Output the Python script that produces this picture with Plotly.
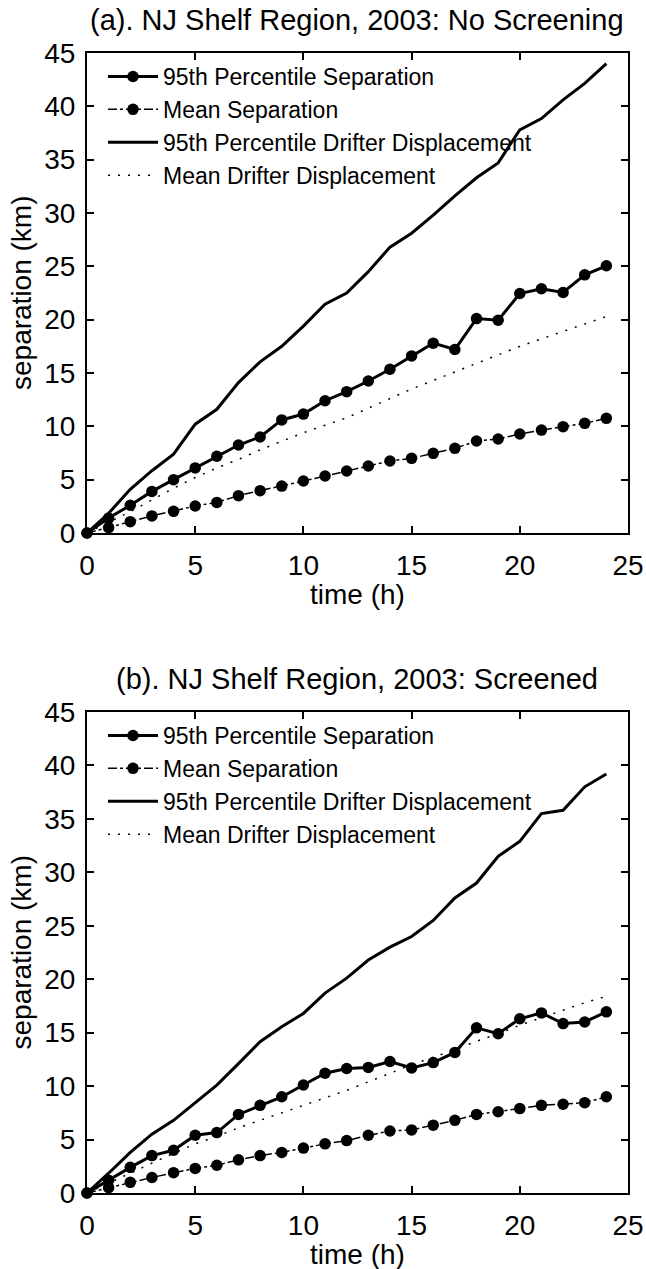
import plotly.graph_objects as go

hours = list(range(25))

# (a) No screening
p95_sep_a = [0, 1.4, 2.6, 3.9, 5.0, 6.1, 7.2, 8.25, 9.0, 10.6, 11.15, 12.4, 13.25, 14.25, 15.35,
             16.6, 17.8, 17.2, 20.1, 19.95, 22.45, 22.9, 22.55, 24.2, 25.05]
mean_sep_a = [0, 0.5, 1.06, 1.6, 2.03, 2.53, 2.87, 3.5, 3.97, 4.4, 4.87, 5.34, 5.81, 6.28, 6.75,
              7.0, 7.47, 7.94, 8.62, 8.81, 9.28, 9.65, 9.97, 10.28, 10.75]
p95_disp_a = [0, 1.85, 4.1, 5.84, 7.4, 10.2, 11.6, 14.1, 16.05, 17.5, 19.4, 21.45, 22.5, 24.5, 26.8,
              28.1, 29.8, 31.6, 33.3, 34.7, 37.8, 38.85, 40.6, 42.15, 44.0]
mean_disp_a = [0, 1.0, 2.0, 3.1, 4.2, 5.2, 6.1, 6.9, 7.8, 8.6, 9.4, 10.1, 10.8, 11.7, 12.6,
               13.5, 14.3, 15.1, 15.9, 16.7, 17.5, 18.2, 18.9, 19.6, 20.3]

# (b) Screened
p95_sep_b = [0, 1.2, 2.4, 3.5, 4.0, 5.4, 5.65, 7.35, 8.2, 9.0, 10.1, 11.2, 11.65, 11.75, 12.3,
             11.7, 12.2, 13.15, 15.45, 14.9, 16.3, 16.85, 15.85, 16.0, 16.95]
mean_sep_b = [0, 0.5, 1.0, 1.45, 1.9, 2.3, 2.6, 3.1, 3.5, 3.8, 4.2, 4.6, 4.9, 5.4, 5.8,
              5.9, 6.35, 6.8, 7.35, 7.6, 7.9, 8.2, 8.3, 8.45, 9.0]
p95_disp_b = [0, 1.85, 3.8, 5.5, 6.8, 8.45, 10.1, 12.1, 14.15, 15.55, 16.8, 18.7, 20.1, 21.8, 23.0,
              24.0, 25.5, 27.6, 29.0, 31.5, 32.9, 35.5, 35.8, 38.0, 39.2]
mean_disp_b = [0, 0.9, 1.85, 2.8, 3.7, 4.6, 5.3, 6.1, 6.8, 7.5, 8.2, 8.9, 9.6, 10.4, 11.2,
               12.0, 12.7, 13.4, 14.2, 14.9, 15.7, 16.4, 17.1, 17.8, 18.4]

names = ["95th Percentile Separation", "Mean Separation",
         "95th Percentile Drifter Displacement", "Mean Drifter Displacement"]
titles = ["(a). NJ Shelf Region, 2003: No Screening", "(b). NJ Shelf Region, 2003: Screened"]
x_ticks = [0, 5, 10, 15, 20, 25]
y_ticks = [0, 5, 10, 15, 20, 25, 30, 35, 40, 45]

W, H = 646, 1269
FONT = "Liberation Sans, Arial, Helvetica, sans-serif"

# pixel geometry
px_left, px_right = 87, 628
panels = [(53, 533), (712, 1193)]


def py(v):
    return 1 - v / H


fig = go.Figure()
datasets = [(p95_sep_a, mean_sep_a, p95_disp_a, mean_disp_a),
            (p95_sep_b, mean_sep_b, p95_disp_b, mean_disp_b)]

for i, (s95, smean, d95, dmean) in enumerate(datasets):
    xa = "x" if i == 0 else "x2"
    ya = "y" if i == 0 else "y2"
    lg = "legend" if i == 0 else "legend2"
    fig.add_trace(go.Scatter(x=hours, y=s95, name=names[0], xaxis=xa, yaxis=ya, legend=lg,
                             mode="lines+markers", cliponaxis=False,
                             line=dict(color="black", width=3),
                             marker=dict(color="black", size=11.5)))
    fig.add_trace(go.Scatter(x=hours, y=smean, name=names[1], xaxis=xa, yaxis=ya, legend=lg,
                             mode="lines+markers", cliponaxis=False,
                             line=dict(color="black", width=1.5, dash="dashdot"),
                             marker=dict(color="black", size=11.5)))
    fig.add_trace(go.Scatter(x=hours, y=d95, name=names[2], xaxis=xa, yaxis=ya, legend=lg,
                             mode="lines", line=dict(color="black", width=3)))
    fig.add_trace(go.Scatter(x=hours, y=dmean, name=names[3], xaxis=xa, yaxis=ya, legend=lg,
                             mode="lines", line=dict(color="black", width=1.5, dash="2px,8px")))

axis_common = dict(showline=True, linecolor="black", linewidth=2, mirror="ticks",
                   ticks="inside", ticklen=7, tickwidth=1.5, tickcolor="black",
                   showgrid=False, zeroline=False, automargin=False,
                   tickfont=dict(family=FONT, size=28, color="black"))

annotations = []
for i, (top, bot) in enumerate(panels):
    suffix = "" if i == 0 else "2"
    fig.layout["xaxis" + suffix] = dict(axis_common, domain=[px_left / W, px_right / W],
                                         range=[0, 25], tickvals=x_ticks,
                                         anchor="y" + suffix, ticklabelstandoff=6)
    fig.layout["yaxis" + suffix] = dict(axis_common, domain=[py(bot), py(top)],
                                         range=[0, 45], tickvals=y_ticks,
                                         anchor="x" + suffix, ticklabelstandoff=4)
    cx = (px_left + px_right) / 2 / W
    annotations.append(dict(text=titles[i], x=cx, y=py(top - 33), xref="paper", yref="paper",
                            showarrow=False, xanchor="center", yanchor="middle",
                            font=dict(family=FONT, size=29, color="black")))
    annotations.append(dict(text="time (h)", x=cx, y=py(bot + 61), xref="paper", yref="paper",
                            showarrow=False, xanchor="center", yanchor="middle",
                            font=dict(family=FONT, size=28, color="black")))
    annotations.append(dict(text="separation (km)", x=21 / W, y=py((top + bot) / 2),
                            xref="paper", yref="paper", textangle=-90,
                            showarrow=False, xanchor="center", yanchor="middle",
                            font=dict(family=FONT, size=28, color="black")))
    fig.layout["legend" + suffix] = dict(x=103 / W, y=py(top + 2), xanchor="left", yanchor="top",
                                         bgcolor="rgba(0,0,0,0)", borderwidth=0,
                                         itemwidth=50, tracegroupgap=0,
                                         font=dict(family=FONT, size=23, color="black"))

fig.update_layout(width=W, height=H,
                  margin=dict(l=0, r=0, t=0, b=0, pad=0, autoexpand=False),
                  paper_bgcolor="white", plot_bgcolor="white",
                  showlegend=True, annotations=annotations)

fig.write_html("out.html")
